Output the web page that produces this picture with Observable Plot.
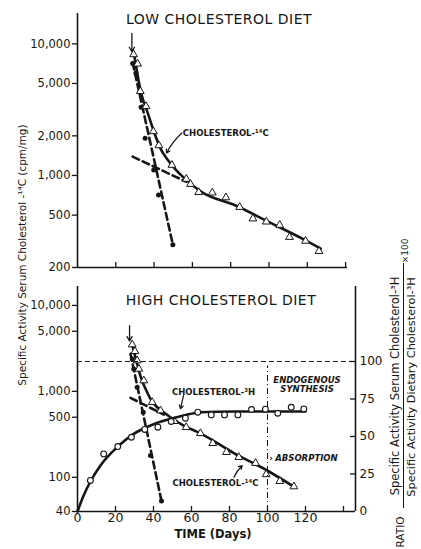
<!DOCTYPE html>
<html><head><meta charset="utf-8">
<script src="https://cdn.jsdelivr.net/npm/d3@7"></script>
<script src="https://cdn.jsdelivr.net/npm/@observablehq/plot@0.6"></script>
<style>
body{margin:0;background:#fff;}
#wrap{position:relative;width:421px;height:549px;overflow:hidden;font-family:"DejaVu Sans",sans-serif;color:#161616;background:#fff;}
.lbl{position:absolute;white-space:nowrap;line-height:1;}
</style></head><body><div id="wrap"></div>
<script>
// ---------- LOW CHOLESTEROL DIET (top panel) ----------
const lowTriDay = [29.3, 31.4, 32.8, 35.8, 39.6, 42.5, 49.3, 56.8, 59.0, 63.3, 70.4, 77.5, 84.7, 91.6, 98.6, 105.6, 110.7, 119.1, 126.1];
const lowTriVal = [8300, 7050, 4360, 3350, 2160, 1690, 1200, 940, 860, 745, 740, 680, 575, 470, 445, 420, 340, 318, 266];
const lowDotDay = [28.8, 30.5, 33.2, 35.3, 39.8, 42.3, 49.8];
const lowDotVal = [7100, 6000, 3300, 1920, 1100, 710, 298];
const lowCurveDay = [29.6, 31.2, 33.2, 36.7, 40.2, 43.7, 47.2, 50.7, 55.9, 64.7, 82.3, 99.8, 117.4, 127];
const lowCurveVal = [8300, 6000, 4240, 2980, 2095, 1563, 1312, 1133, 950, 751, 594, 444, 331, 278];
const lowSteepDay = [28.8, 49.8];
const lowSteepVal = [7200, 298];
const lowShallowDay = [28.8, 56.8];
const lowShallowVal = [1390, 896];
const lowYTicks = [200, 500, 1000, 2000, 5000, 10000];

// ---------- HIGH CHOLESTEROL DIET (bottom panel) ----------
const highTriDay = [28.8, 30.2, 31.4, 32.3, 34.9, 39.3, 43.7, 51.0, 57.2, 64.7, 71.2, 78.4, 84.9, 93.7, 99.3, 106.5, 113.9];
const highTriVal = [3500, 2925, 2280, 1825, 1335, 747, 597, 449, 382, 325, 249, 196, 171, 146, 108, 90, 78];
const highDotDay = [28.8, 29.6, 31.4, 34.6, 38.4, 44.2];
const highDotVal = [2385, 1825, 1115, 571, 179, 53];
const highCurveDay = [28.8, 31.4, 33.2, 35.8, 38.4, 41.9, 45.4, 48.9, 55.9, 64.7, 82.3, 99.8, 113.8];
const highCurveVal = [3500, 2090, 1490, 1070, 817, 653, 571, 500, 400, 325, 191, 120, 78];
const highSteepDay = [27.9, 44.2];
const highSteepVal = [2730, 53];
const highShallowDay = [27.9, 45.4];
const highShallowVal = [840, 537];
const highYTicks = [40, 100, 500, 1000, 5000, 10000];

// cholesterol-3H ratio (right axis, %)
const h3Day = [6.8, 13.8, 21.2, 28.4, 35.4, 42.3, 49.3, 56.8, 63.3, 70.4, 77.4, 84.4, 91.6, 98.9, 105.4, 112.5, 119.1];
const h3Ratio = [20.7, 38.4, 43.3, 49.5, 54.7, 56.2, 60, 62.2, 66.2, 64.4, 64.4, 64.4, 68, 68.2, 65.5, 69.5, 68.4];
const h3CurveDay = [0, 3, 6.8, 12.1, 20.9, 29.6, 38.4, 47.2, 55.9, 64.7, 82.3, 120];
const h3CurveRatio = [0, 10, 20, 30.7, 42.9, 51.8, 57.3, 61.1, 64, 66.2, 66.7, 66.7];
const ratioTicks = [0, 25, 50, 75, 100];
const dayTicks = [0, 20, 40, 60, 80, 100, 120];
const dayMinor = [20, 40, 60, 80, 100, 120, 140];

const ink = "#161616";
const FONT = "'DejaVu Sans', sans-serif";
const fmt = d3.format(",");
const rows = (xs, ys) => xs.map((x, i) => ({x, y: ys[i]}));
const wrap = document.getElementById("wrap");
function place(el, top) { el.style.position = "absolute"; el.style.left = "0px"; el.style.top = top + "px"; wrap.append(el); }
function label(text, cx, cy, css, rot) {
  const d = document.createElement("div"); d.className = "lbl"; d.textContent = text;
  d.style.left = cx + "px"; d.style.top = cy + "px";
  d.style.transform = "translate(-50%,-50%)" + (rot ? " rotate(-90deg)" : "");
  Object.assign(d.style, css || {}); wrap.append(d); return d;
}
const dotTri = {symbol: "triangle", r: 2.9, fill: "white", stroke: ink, strokeWidth: 1};
const dotFill = {r: 2.5, fill: ink};
const dotOpen = {r: 2.9, fill: "white", stroke: ink, strokeWidth: 1.1};
const solid = {x: "x", y: "y", curve: "monotone-x", stroke: ink, strokeWidth: 2.6};
const dashed = {x: "x", y: "y", stroke: ink, strokeWidth: 2.6, strokeDasharray: "7,4"};
const annot = {fontSize: 8.5, fontWeight: "bold", fill: ink, fontFamily: FONT};
const yLabels = (ticks) => Plot.text(ticks, {y: d => d, text: d => fmt(d), frameAnchor: "left", textAnchor: "end", dx: -7, fontSize: 11.5, fill: ink});

// ---------- top plot ----------
const topW = 421, topH = 280, topMT = 13, topMB = 13;
const topPlot = Plot.plot({
  width: topW, height: topH,
  marginLeft: 77, marginRight: 74, marginTop: topMT, marginBottom: topMB,
  x: {domain: [0, 141], axis: null},
  y: {type: "log", domain: [200, 17000], axis: null},
  style: {background: "transparent", fontFamily: FONT, fontSize: "11px", color: ink, overflow: "visible"},
  marks: [
    Plot.axisY(lowYTicks, {tickSize: 5, tickFormat: () => "", label: null, stroke: ink, strokeWidth: 1.3}),
    yLabels(lowYTicks),
    Plot.ruleX([0], {stroke: ink, strokeWidth: 1.6}),
    Plot.ruleY([200], {stroke: ink, strokeWidth: 1.6}),
    Plot.tickX(dayMinor, {x: d => d, insetTop: topH - topMT - topMB - 5, stroke: ink, strokeWidth: 1.3}),
    Plot.line(rows(lowSteepDay, lowSteepVal), dashed),
    Plot.line(rows(lowShallowDay, lowShallowVal), dashed),
    Plot.line(rows(lowCurveDay, lowCurveVal), solid),
    Plot.dot(rows(lowDotDay, lowDotVal), {x: "x", y: "y", ...dotFill}),
    Plot.dot(rows(lowTriDay, lowTriVal), {x: "x", y: "y", ...dotTri}),
    Plot.arrow([{x1: 28.4, y1: 12000, x2: 28.4, y2: 8700}], {x1: "x1", y1: "y1", x2: "x2", y2: "y2", stroke: ink, strokeWidth: 1.3, headLength: 6}),
    Plot.arrow([{x1: 54.5, y1: 2100, x2: 46.5, y2: 1480}], {x1: "x1", y1: "y1", x2: "x2", y2: "y2", stroke: ink, strokeWidth: 1.2, headLength: 5, bend: -10}),
    Plot.text([{x: 55, y: 2110, t: "CHOLESTEROL-¹⁴C"}], {x: "x", y: "y", text: "t", textAnchor: "start", ...annot})
  ]
});
place(topPlot, 0);

// ---------- bottom plot (log, left axis) ----------
const botH = 279, botMT = 16, botMB = 38, botML = 77, botMR = 66;
const xMax = (421 - botML - botMR) / 1.9;
const botPlot = Plot.plot({
  width: 421, height: botH,
  marginLeft: botML, marginRight: botMR, marginTop: botMT, marginBottom: botMB,
  x: {domain: [0, xMax]},
  y: {type: "log", domain: [40, 16600], axis: null},
  style: {background: "transparent", fontFamily: FONT, fontSize: "11px", color: ink, overflow: "visible"},
  marks: [
    Plot.axisY(highYTicks, {tickSize: 5, tickFormat: () => "", label: null, stroke: ink, strokeWidth: 1.3}),
    yLabels(highYTicks),
    Plot.axisX(dayTicks, {tickSize: 0, tickPadding: 2, label: null, fontSize: 12.5, fill: ink}),
    Plot.ruleX([0], {stroke: ink, strokeWidth: 1.6}),
    Plot.ruleY([40], {stroke: ink, strokeWidth: 1.6}),
    Plot.tickX(dayMinor, {x: d => d, insetTop: botH - botMT - botMB - 5, stroke: ink, strokeWidth: 1.3}),
    Plot.line(rows(highSteepDay, highSteepVal), dashed),
    Plot.line(rows(highShallowDay, highShallowVal), dashed),
    Plot.line(rows(highCurveDay, highCurveVal), solid),
    Plot.dot(rows(highDotDay, highDotVal), {x: "x", y: "y", ...dotFill}),
    Plot.dot(rows(highTriDay, highTriVal), {x: "x", y: "y", ...dotTri}),
    Plot.arrow([{x1: 27.4, y1: 5800, x2: 27.4, y2: 3850}], {x1: "x1", y1: "y1", x2: "x2", y2: "y2", stroke: ink, strokeWidth: 1.3, headLength: 6}),
    Plot.arrow([{x1: 82.3, y1: 100, x2: 86.7, y2: 137}], {x1: "x1", y1: "y1", x2: "x2", y2: "y2", stroke: ink, strokeWidth: 1.2, headLength: 5, bend: 10}),
    Plot.text([{x: 72.6, y: 84.7, t: "CHOLESTEROL-¹⁴C"}], {x: "x", y: "y", text: "t", ...annot})
  ]
});
place(botPlot, 270);

// ---------- bottom overlay (ratio, right axis) ----------
const frameW = 421 - botML - botMR;
const ratioPlot = Plot.plot({
  width: 421, height: botH,
  marginLeft: botML, marginRight: botMR, marginTop: botMT, marginBottom: botMB,
  x: {domain: [0, xMax], axis: null},
  y: {domain: [0, 150], axis: null},
  style: {background: "transparent", fontFamily: FONT, fontSize: "12px", color: ink, overflow: "visible"},
  marks: [
    Plot.axisY(ratioTicks, {anchor: "right", tickSize: 0, tickPadding: 4, label: null, fill: ink}),
    Plot.ruleX([xMax], {stroke: ink, strokeWidth: 1.6}),
    Plot.tickY(ratioTicks.slice(1), {y: d => d, insetLeft: frameW - 5, stroke: ink, strokeWidth: 1.3}),
    Plot.ruleY([100], {stroke: ink, strokeWidth: 1, strokeDasharray: "5,3"}),
    Plot.ruleX([100], {y1: 0, y2: 97, stroke: ink, strokeWidth: 1, strokeDasharray: "6,3,1,3"}),
    Plot.line(rows(h3CurveDay, h3CurveRatio), solid),
    Plot.dot(rows(h3Day, h3Ratio), {x: "x", y: "y", ...dotOpen}),
    Plot.arrow([{x1: 55.8, y1: 77.3, x2: 54.2, y2: 68.5}], {x1: "x1", y1: "y1", x2: "x2", y2: "y2", stroke: ink, strokeWidth: 1.2, headLength: 5}),
    Plot.text([{x: 71.6, y: 79.3, t: "CHOLESTEROL-³H"}], {x: "x", y: "y", text: "t", ...annot}),
    Plot.text([{x: 120.8, y: 87.3, t: "ENDOGENOUS"}, {x: 120.8, y: 81.3, t: "SYNTHESIS"}, {x: 120.5, y: 35.3, t: "ABSORPTION"}],
      {x: "x", y: "y", text: "t", ...annot, fontStyle: "italic"}),
    Plot.text([{x: 101.8, y: 35.3, t: "›"}], {x: "x", y: "y", text: "t", ...annot})
  ]
});
place(ratioPlot, 270);

// ---------- titles & axis labels ----------
label("LOW CHOLESTEROL DIET", 219, 19, {fontSize: "14px", letterSpacing: "0.5px"});
label("HIGH CHOLESTEROL DIET", 221, 300, {fontSize: "14px", letterSpacing: "0.5px"});
label("TIME (Days)", 213, 535, {fontSize: "11.5px", fontWeight: "bold"});
label("Specific Activity Serum Cholesterol -¹⁴C (cpm/mg)", 22, 255, {fontSize: "10.5px"}, true);
label("Specific Activity Serum Cholesterol-³H", 396, 386, {fontSize: "11.5px"}, true);
label("Specific Activity Dietary Cholesterol-³H", 412, 387, {fontSize: "11.3px"}, true);
label("RATIO", 400, 532, {fontSize: "10.5px"}, true);
label("×100", 405, 251, {fontSize: "9px"}, true);
const bar = document.createElement("div");
Object.assign(bar.style, {position: "absolute", left: "403px", top: "263px", width: "1.2px", height: "245px", background: ink});
wrap.append(bar);
</script>
</body></html>
